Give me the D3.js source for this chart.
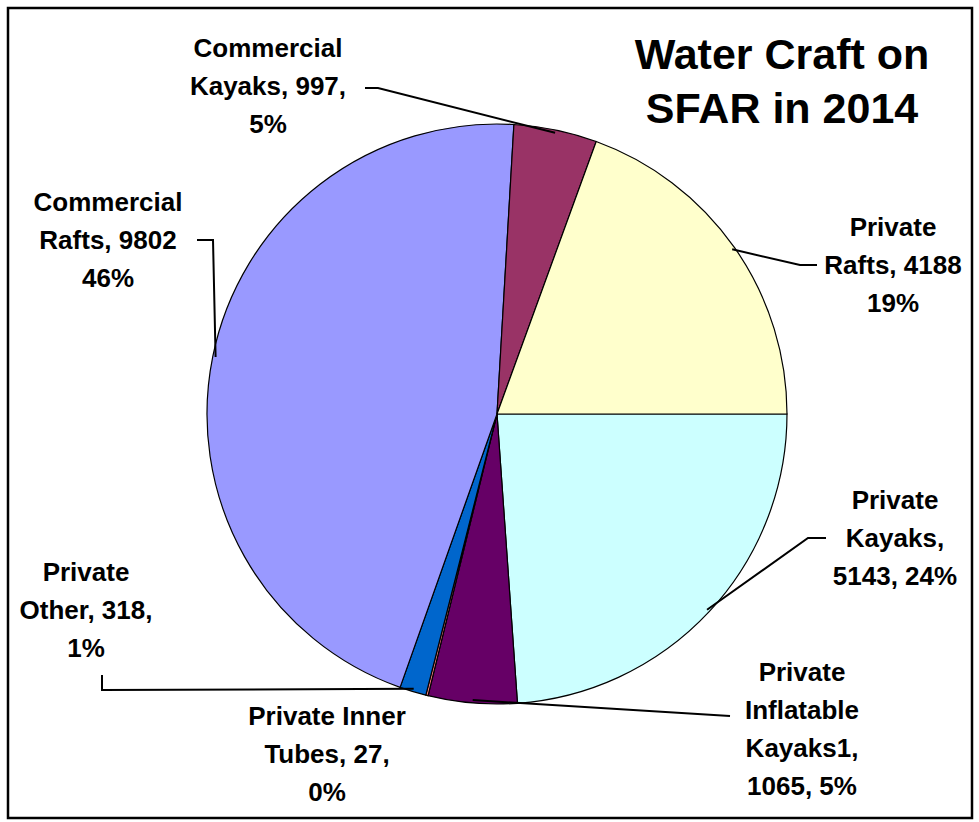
<!DOCTYPE html>
<html><head><meta charset="utf-8">
<script src="https://cdn.jsdelivr.net/npm/d3@7"></script>
<style>body{margin:0;background:#fff}text{font-family:Arial,"Liberation Sans",sans-serif;font-weight:bold;fill:#000}</style>
</head><body><svg id="c" width="979" height="822"></svg>
<script>
const categories=["Private Kayaks","Private Inflatable Kayaks1","Private Inner Tubes","Private Other","Commercial Rafts","Commercial Kayaks","Private Rafts"];
const values=[5143,1065,27,318,9802,997,4188];
const colors=["#CCFFFF","#660066","#FF8080","#0066CC","#9999FF","#993366","#FFFFCC"];
const labels=[
 ["Private","Kayaks,","5143, 24%"],
 ["Private","Inflatable","Kayaks1,","1065, 5%"],
 ["Private Inner","Tubes, 27,","0%"],
 ["Private","Other, 318,","1%"],
 ["Commercial","Rafts, 9802","46%"],
 ["Commercial","Kayaks, 997,","5%"],
 ["Private","Rafts, 4188","19%"]];
const labelPos=[[895,509],[802,681],[327,725],[86,581],[108,211],[268,57],[893,236]];
const leaders=[
 [[826,538],[808,538]],[[730,716]],[],[[102,675],[102,690]],[[197,240],[213,240]],[[365,88],[378,88]],[[817,265],[800,265]]];
const svg=d3.select("#c");
svg.append("rect").attr("x",8).attr("y",8).attr("width",964).attr("height",810).attr("fill","none").attr("stroke","#000").attr("stroke-width",2.5);
const cx=497,cy=414,R=290;
const pie=d3.pie().sort(null).startAngle(Math.PI/2).endAngle(Math.PI/2+2*Math.PI);
const arcs=pie(values);
const arc=d3.arc().innerRadius(0).outerRadius(R);
const g=svg.append("g").attr("transform",`translate(${cx},${cy})`);
g.selectAll("path").data(arcs).join("path").attr("d",arc).attr("fill",(d,i)=>colors[i]).attr("stroke","#000").attr("stroke-width",1.2);
arcs.forEach((a,i)=>{
 if(!leaders[i].length)return;
 const m=(a.startAngle+a.endAngle)/2;
 const p=[cx+Math.sin(m)*R*0.99,cy-Math.cos(m)*R*0.99];
 const pts=[...leaders[i],p];
 svg.append("path").attr("d",d3.line()(pts)).attr("fill","none").attr("stroke","#000").attr("stroke-width",2);
});
labels.forEach((ls,i)=>{
 const t=svg.append("text").attr("text-anchor","middle").attr("font-size",26);
 ls.forEach((s,j)=>t.append("tspan").attr("x",labelPos[i][0]).attr("y",labelPos[i][1]+j*38).text(s));
});
const title=svg.append("text").attr("text-anchor","middle").attr("font-size",43);
["Water Craft on","SFAR in 2014"].forEach((s,j)=>title.append("tspan").attr("x",782).attr("y",69+j*54).text(s));
</script></body></html>
